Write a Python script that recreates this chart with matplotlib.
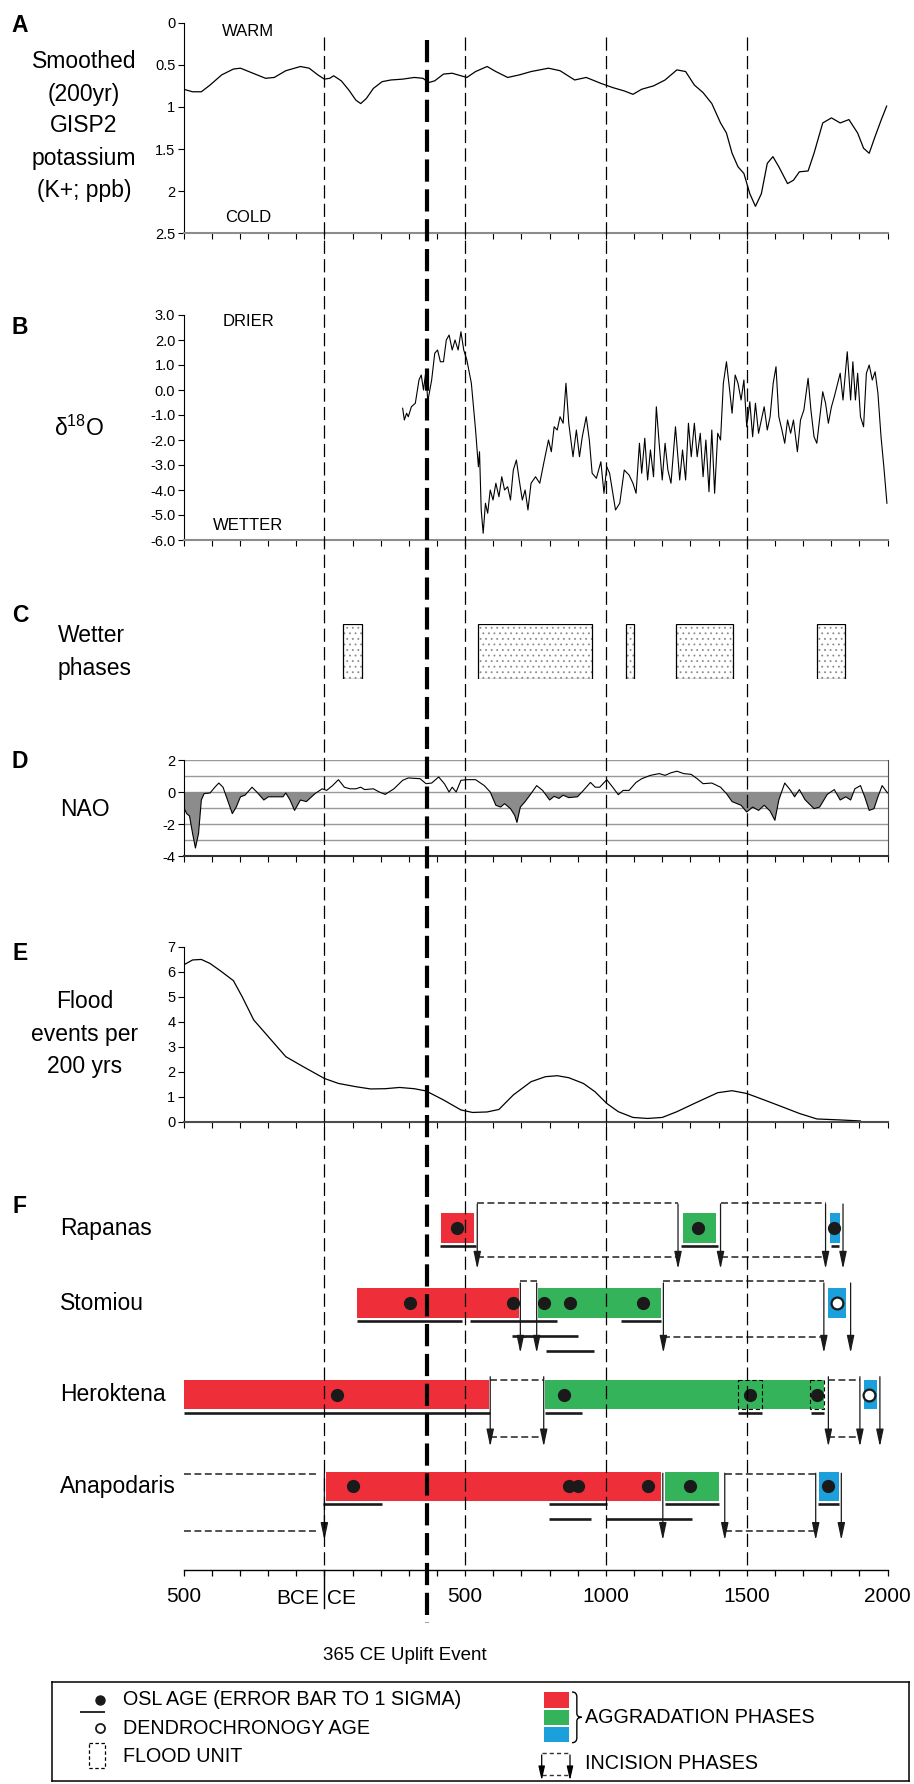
import matplotlib
matplotlib.use("Agg")
import matplotlib.pyplot as plt
from matplotlib.patches import Rectangle, PathPatch
from matplotlib.path import Path
import numpy as np

plt.rcParams["font.family"] = ["Liberation Sans", "DejaVu Sans"]
plt.rcParams["lines.scale_dashes"] = False
plt.rcParams["axes.unicode_minus"] = False
plt.rcParams["mathtext.fontset"] = "custom"
plt.rcParams["mathtext.rm"] = "Liberation Sans"
plt.rcParams["hatch.linewidth"] = 0.6

# ---------------- data ----------------
X0, X1 = -500, 2000

# A: smoothed GISP2 potassium (ppb)
K_YEAR = [-500, -468, -437, -406, -365, -323, -298, -261, -209, -178, -137, -85, -54, -23,
          0, 19, 33, 60, 87, 112, 129, 149, 174, 205, 236, 278, 319, 350, 371, 392, 423,
          454, 485, 506, 537, 578, 609, 651, 692, 734, 796, 837, 889, 930, 982, 1024, 1065,
          1096, 1127, 1169, 1210, 1252, 1283, 1314, 1345, 1376, 1407, 1428, 1448, 1469,
          1490, 1511, 1531, 1552, 1573, 1593, 1614, 1645, 1666, 1687, 1718, 1739, 1770,
          1801, 1832, 1863, 1894, 1915, 1935, 1956, 1977, 1997]
K_PPB = [0.79, 0.82, 0.82, 0.74, 0.62, 0.55, 0.54, 0.59, 0.66, 0.65, 0.57, 0.52, 0.54, 0.62,
         0.67, 0.66, 0.63, 0.69, 0.80, 0.92, 0.96, 0.90, 0.78, 0.70, 0.68, 0.67, 0.65, 0.66,
         0.71, 0.69, 0.61, 0.60, 0.63, 0.65, 0.58, 0.52, 0.58, 0.65, 0.62, 0.58, 0.54, 0.57,
         0.68, 0.65, 0.72, 0.77, 0.81, 0.85, 0.79, 0.75, 0.68, 0.56, 0.58, 0.74, 0.83, 0.96,
         1.19, 1.31, 1.55, 1.71, 1.79, 2.03, 2.18, 2.03, 1.67, 1.59, 1.71, 1.91, 1.87, 1.77,
         1.76, 1.55, 1.19, 1.13, 1.19, 1.15, 1.31, 1.49, 1.55, 1.35, 1.16, 0.99]

# B: delta 18O
D18_YEAR = [278, 284, 292, 298, 309, 323, 336, 344, 352, 361, 367, 381, 392, 402, 412, 423,
            433, 443, 454, 464, 475, 485, 495, 506, 522, 537, 547, 551, 557, 564, 572, 580,
            589, 599, 609, 620, 630, 640, 651, 661, 671, 682, 692, 703, 713, 723, 734, 750,
            765, 779, 796, 806, 816, 827, 837, 848, 858, 868, 883, 895, 906, 916, 930, 941,
            951, 966, 982, 993, 1003, 1013, 1034, 1049, 1065, 1082, 1096, 1107, 1119, 1127,
            1138, 1148, 1158, 1169, 1179, 1189, 1200, 1210, 1220, 1231, 1247, 1262, 1272,
            1283, 1293, 1303, 1314, 1324, 1335, 1345, 1355, 1366, 1376, 1386, 1397, 1407,
            1417, 1428, 1438, 1448, 1459, 1469, 1480, 1490, 1500, 1511, 1521, 1531, 1542,
            1552, 1562, 1573, 1583, 1594, 1604, 1614, 1625, 1635, 1645, 1656, 1666, 1680,
            1691, 1703, 1718, 1728, 1739, 1749, 1770, 1780, 1790, 1801, 1811, 1832, 1842,
            1857, 1869, 1877, 1886, 1894, 1904, 1915, 1925, 1935, 1946, 1956, 1966, 1977,
            1987, 1998]
D18_VAL = [-0.73, -1.2, -0.93, -1.07, -0.67, -0.53, 0.4, 0.6, 0.0, 0.8, -0.47, 0.4, 1.47, 1.6,
           1.13, 1.13, 2.0, 2.2, 1.6, 2.0, 1.6, 2.33, 1.6, 1.2, 0.27, -1.6, -3.07, -2.47,
           -4.8, -5.73, -4.53, -4.93, -4.0, -4.4, -3.73, -4.27, -3.47, -4.0, -3.87, -4.4,
           -3.2, -2.8, -3.6, -4.4, -4.0, -4.8, -3.73, -3.47, -3.73, -2.93, -2.0, -2.47,
           -1.47, -1.6, -1.07, -1.33, 0.27, -1.33, -2.67, -1.6, -2.67, -1.87, -1.07, -2.0,
           -3.33, -3.53, -2.87, -4.13, -3.07, -3.33, -4.8, -4.53, -3.2, -3.4, -3.73, -4.13,
           -2.13, -3.33, -1.93, -3.6, -2.4, -3.47, -0.67, -2.13, -3.6, -2.13, -3.2, -3.73,
           -1.47, -3.6, -2.4, -3.6, -1.33, -2.67, -1.33, -2.67, -1.73, -3.47, -2.0, -4.07,
           -1.6, -4.13, -1.73, -2.0, 0.27, 1.13, 0.13, -0.93, 0.6, 0.27, -0.4, 0.4, -1.47,
           -0.47, -1.87, -0.53, -1.73, -1.2, -0.67, -1.6, -1.07, 0.27, 0.93, -1.07, -1.6,
           -2.13, -1.2, -1.73, -1.2, -2.47, -1.2, -0.8, 0.47, -0.8, -1.87, -2.13, -0.07,
           -0.53, -1.33, -0.67, -0.27, 0.67, -0.4, 1.53, -0.4, 1.13, -0.4, 0.67, -1.07,
           -1.47, 0.67, 1.0, 0.4, 0.73, -0.13, -1.87, -3.07, -4.53]

# C: wetter phases (start, end)
WET_START = [65, 545, 1070, 1250, 1750]
WET_END = [135, 950, 1100, 1450, 1850]

# D: NAO index
NAO_YEAR = [-500, -489, -479, -468, -458, -447, -437, -427, -406, -389, -375, -360, -344,
            -327, -313, -298, -282, -257, -240, -215, -199, -178, -147, -137, -122, -106,
            -85, -64, -33, -8, 8, 29, 50, 71, 91, 112, 129, 143, 174, 195, 216, 247, 278,
            298, 340, 361, 381, 406, 427, 443, 454, 468, 485, 506, 537, 568, 589, 609, 626,
            640, 661, 676, 684, 696, 713, 734, 754, 775, 800, 816, 833, 848, 868, 899, 920,
            945, 962, 978, 1003, 1024, 1044, 1061, 1082, 1107, 1127, 1158, 1189, 1210, 1231,
            1252, 1276, 1303, 1324, 1345, 1376, 1407, 1428, 1448, 1480, 1500, 1521, 1542,
            1562, 1583, 1600, 1614, 1635, 1656, 1670, 1687, 1707, 1739, 1759, 1786, 1811,
            1832, 1852, 1869, 1884, 1904, 1919, 1935, 1952, 1966, 1981, 2000]
NAO_VAL = [-0.94, -1.35, -1.5, -2.6, -3.5, -2.6, -0.5, -0.1, -0.06, 0.3,
           0.56, 0.3, -0.5, -1.35, -0.94, -0.3, -0.2, 0.3, 0.0, -0.5,
           -0.3, -0.3, -0.3, -0.06, -0.5, -1.15, -0.5, -0.6, -0.1, 0.2,
           0.1, 0.4, 0.77, 0.3, 0.2, 0.2, 0.3, 0.15, 0.2, 0.0,
           -0.15, 0.2, 0.73, 0.88, 0.83, 0.52, 0.56, 0.94, 0.5, 0.0,
           0.3, 0.0, 0.73, 0.77, 0.77, 0.4, 0.0, -0.83, -0.94, -0.73,
           -1.04, -1.46, -1.9, -0.94, -0.6, -0.1, 0.4, 0.1, -0.5, -0.27,
           -0.4, -0.2, -0.35, -0.3, 0.1, 0.6, 0.3, 0.3, 0.77, 0.3,
           -0.17, 0.1, 0.1, 0.6, 0.83, 1.04, 1.15, 1.04, 1.2, 1.3,
           1.15, 1.1, 0.83, 0.52, 0.56, 0.3, -0.1, -0.6, -0.83, -1.25,
           -0.94, -1.15, -0.83, -1.19, -1.77, -0.5, 0.56, 0.1, -0.3, 0.15,
           -0.48, -1.04, -0.94, -0.15, 0.15, -0.5, -0.3, -0.5, 0.2, 0.4,
           -0.3, -1.15, -1.04, -0.3, 0.4, -0.06]

# E: flood events per 200 yrs
FLOOD_YEAR = [-500, -468, -437, -406, -365, -323, -292, -251, -199, -137, -75, 0, 50, 112,
              164, 216, 267, 319, 361, 423, 485, 526, 578, 620, 671, 734, 785, 827, 868,
              920, 961, 1003, 1044, 1096, 1148, 1200, 1252, 1314, 1397, 1448, 1500, 1562,
              1625, 1687, 1749, 1832, 1904]
FLOOD_N = [6.27, 6.47, 6.49, 6.33, 6.0, 5.64, 5.0, 4.07, 3.4, 2.6, 2.2, 1.73, 1.53, 1.4,
           1.31, 1.32, 1.37, 1.32, 1.23, 0.87, 0.47, 0.37, 0.39, 0.49, 1.07, 1.6, 1.8,
           1.84, 1.76, 1.53, 1.2, 0.73, 0.4, 0.17, 0.13, 0.17, 0.4, 0.73, 1.16, 1.24,
           1.13, 0.87, 0.6, 0.33, 0.11, 0.07, 0.03]

# F: aggradation / incision phases per catchment
SITES = ["Rapanas", "Stomiou", "Heroktena", "Anapodaris"]
AGG_RED = [(415, 530), (116, 692), (-500, 584), (4, 1194)]
AGG_GREEN = [(1272, 1390), (758, 1196), (785, 1774), (1210, 1403)]
AGG_BLUE = [(1795, 1830), (1790, 1853), (1915, 1962), (1755, 1828)]
OSL_AGES = [[472, 1328, 1811], [305, 671, 779, 872, 1131],
            [44, 850, 1513, 1749], [102, 868, 899, 1148, 1297, 1790]]
DENDRO_AGES = [[], [1821], [1935], []]
# 1 sigma error bars (from, to, stack level)
OSL_ERR = [
    [(410, 537, 0), (1268, 1397, 0), (1800, 1826, 0)],
    [(116, 489, 0), (518, 827, 0), (1055, 1196, 0), (667, 899, 1), (787, 957, 2)],
    [(-500, 589, 0), (785, 916, 0), (1469, 1556, 0), (1728, 1774, 0)],
    [(-6, 205, 0), (796, 1003, 0), (1210, 1403, 0), (1753, 1828, 0), (796, 947, 1), (999, 1305, 1)],
]
FLOOD_UNITS = [[], [], [(1469, 1556), (1724, 1774)], []]
INCISION_SPANS = [[(543, 1256), (1407, 1780)], [(696, 754), (1204, 1774)],
                  [(589, 779), (1790, 1902)], [(-500, -20), (1422, 1745)]]
INCISION_ARROWS = [[543, 1256, 1407, 1780, 1842], [696, 754, 1204, 1774, 1869],
                   [589, 779, 1790, 1902, 1973], [0, 1202, 1422, 1745, 1836]]

THIN_LINES = [0, 500, 1000, 1500]
UPLIFT_YEAR = 365

RED, GREEN, BLUE = "#ee2e38", "#35b35a", "#1ba0dc"

# ---------------- layout (pixels of the 914x1784 canvas) ----------------
W, H = 914, 1784
PX_L, PX_R = 183.6, 887.5
TXT = 16.5      # side labels
TICK = 10.5     # panel tick labels

fig = plt.figure(figsize=(W / 100, H / 100), dpi=100)


def fx(px):
    return px / W


def fy(py):
    return 1 - py / H


def add_panel(top, bot):
    return fig.add_axes([fx(PX_L), fy(bot), fx(PX_R) - fx(PX_L), (bot - top) / H])


def time_axis(ax, spine_color):
    ax.set_xlim(X0, X1)
    ax.set_xticks(np.arange(X0, X1 + 1, 100))
    ax.tick_params(axis="x", direction="out", length=4.5, width=0.8, labelbottom=False)
    ax.tick_params(axis="y", direction="out", length=4.5, width=0.8, labelsize=TICK, pad=1.5)
    for s in ("top", "right"):
        ax.spines[s].set_visible(False)
    ax.spines["bottom"].set_color(spine_color)
    ax.spines["bottom"].set_linewidth(1.5)
    ax.spines["left"].set_linewidth(0.8)
    ax.patch.set_visible(False)


def label(px, py, s, size=TXT, **kw):
    kw.setdefault("ha", "center")
    kw.setdefault("va", "center")
    fig.text(fx(px), fy(py), s, fontsize=size, **kw)


# ---- A ----
axA = add_panel(22.7, 233.3)
axA.plot(K_YEAR, K_PPB, color="k", lw=0.9)
axA.set_ylim(2.5, 0)
axA.set_yticks([0, 0.5, 1, 1.5, 2, 2.5])
axA.set_yticklabels(["0", "0.5", "1", "1.5", "2", "2.5"])
time_axis(axA, "0.55")

# ---- B ----
axB = add_panel(315, 540)
axB.plot(D18_YEAR, D18_VAL, color="k", lw=0.8)
axB.set_ylim(-6, 3)
axB.set_yticks(np.arange(-6, 3.1, 1))
axB.set_yticklabels([f"{v:.1f}" for v in np.arange(-6, 3.1, 1)])
time_axis(axB, "0.55")

# ---- C ----
axC = add_panel(624.3, 678.7)
axC.set_xlim(X0, X1)
axC.set_ylim(0, 1)
axC.axis("off")
widths = [e - s for s, e in zip(WET_START, WET_END)]
axC.barh(0.5, widths, left=WET_START, height=1, color="white", edgecolor="0.55",
         hatch="...", lw=0)
axC.barh(0.5, widths, left=WET_START, height=1, fill=False, edgecolor="k", lw=0.9)

# ---- D ----
axD = add_panel(760, 856)
nao_y = np.array(NAO_VAL)
axD.fill_between(NAO_YEAR, nao_y, 0, where=nao_y < 0, interpolate=True,
                 color="#8c8c8c", lw=0)
axD.plot(NAO_YEAR, NAO_VAL, color="k", lw=0.8)
for g in range(-3, 3):
    axD.axhline(g, color="0.6", lw=1.0, zorder=0)
axD.set_ylim(-4, 2)
axD.set_yticks([-4, -2, 0, 2])
axD.set_yticklabels(["-4", "-2", "0", "2"])
time_axis(axD, "0.2")
axD.spines["right"].set_visible(True)
axD.spines["right"].set_color("0.3")
axD.spines["right"].set_linewidth(0.8)

# ---- E ----
axE = add_panel(946.7, 1121.7)
axE.plot(FLOOD_YEAR, FLOOD_N, color="k", lw=0.9)
axE.set_ylim(0, 7)
axE.set_yticks(range(0, 8))
time_axis(axE, "0.3")

# ---- F ----
F_TOP, F_AXIS = 1190, 1570
ROW_Y = [1228, 1303, 1394.7, 1486.2]
BAR_H = 29.4
DASH_TOP = [-25, -22, -15, -12]
DASH_BOT = [29, 34, 42, 44.5]
ARROW_TOP = [-24, -20, -18, -13]
ARROW_BOT = [41, 50, 52, 54]

axF = add_panel(F_TOP, F_AXIS)
axF.set_xlim(X0, X1)
axF.set_ylim(F_AXIS, F_TOP)
axF.patch.set_visible(False)
for s in ("top", "right", "left"):
    axF.spines[s].set_visible(False)
axF.spines["bottom"].set_linewidth(1.0)
axF.set_yticks([])
axF.set_xticks(np.arange(X0, X1 + 1, 500))
axF.set_xticks(np.arange(X0, X1 + 1, 100), minor=True)
axF.set_xticklabels(["500", "", "500", "1000", "1500", "2000"], fontsize=15)
axF.tick_params(axis="x", which="both", direction="out", length=4.5, width=0.9, pad=8)

for i, c in enumerate(ROW_Y):
    for (s, e), col in zip([AGG_RED[i], AGG_GREEN[i], AGG_BLUE[i]], [RED, GREEN, BLUE]):
        axF.barh(c, e - s, left=s, height=BAR_H, color=col, lw=0, zorder=2)
    for s, e in FLOOD_UNITS[i]:
        axF.add_patch(Rectangle((s, c - BAR_H / 2), e - s, BAR_H, fill=False, ec="k",
                                lw=0.8, ls=(0, (3, 2)), zorder=3))
    axF.plot(OSL_AGES[i], [c] * len(OSL_AGES[i]), "o", color="#1a1a1a", ms=8.5, zorder=4)
    if DENDRO_AGES[i]:
        axF.plot(DENDRO_AGES[i], [c] * len(DENDRO_AGES[i]), "o", mfc="white", mec="#1a1a1a",
                 mew=1.6, ms=8.5, zorder=4)
    for s, e, lev in OSL_ERR[i]:
        axF.hlines(c + BAR_H / 2 + 3.5 + 15 * lev, s, e, color="#1a1a1a", lw=1.9, zorder=3)
    for s, e in INCISION_SPANS[i]:
        axF.hlines([c + DASH_TOP[i], c + DASH_BOT[i]], s, e, color="#222222", lw=1.1,
                   linestyles=[(0, (5, 2.5))], zorder=3)
    for x in INCISION_ARROWS[i]:
        axF.annotate("", xy=(x, c + ARROW_BOT[i]), xytext=(x, c + ARROW_TOP[i]),
                     arrowprops=dict(arrowstyle="-|>,head_length=0.75,head_width=0.16",
                                     color="#1a1a1a", lw=0.9, shrinkA=0, shrinkB=0,
                                     mutation_scale=14), zorder=5)
    label(60, c, SITES[i], ha="left")

# ---- overlay: shared vertical time markers ----
ov = fig.add_axes([0, 0, 1, 1])
span = (X1 - X0) / (PX_R - PX_L)
ov.set_xlim(X0 - PX_L * span, X1 + (W - PX_R) * span)
ov.set_ylim(H, 0)
ov.axis("off")
for yr in THIN_LINES:
    ov.plot([yr, yr], [37, F_AXIS], color="k", lw=0.9, dashes=(9.5, 3.8))
ov.plot([0, 0], [F_AXIS, 1608], color="k", lw=1.0)
ov.plot([UPLIFT_YEAR] * 2, [40, 1623], color="k", lw=3.0, dashes=(16, 5.5))

# ---- text ----
for letter, py in zip("ABCDEF", [25, 327, 615, 762, 953, 1206.5]):
    label(20, py, letter, fontweight="bold")
label(84, 126, "Smoothed\n(200yr)\nGISP2\npotassium\n(K+; ppb)", linespacing=1.5)
label(248, 32, "WARM", size=12)
label(248, 218, "COLD", size=12)
label(248, 321, "DRIER", size=12)
label(248, 525, "WETTER", size=12)
label(79, 428, r"δ$^{18}$O")
label(58, 652, "Wetter\nphases", ha="left", linespacing=1.5)
label(85, 809, "NAO")
label(85, 1034, "Flood\nevents per\n200 yrs", linespacing=1.5)
label(319, 1599, "BCE", size=15, ha="right")
label(327, 1599, "CE", size=15, ha="left")
label(405, 1655, "365 CE Uplift Event", size=13.5)

# ---- legend ----
LG_L, LG_R, LG_T, LG_B = 52, 909, 1682, 1781
lg = fig.add_axes([fx(LG_L), fy(LG_B), fx(LG_R) - fx(LG_L), (LG_B - LG_T) / H])
lg.set_xlim(LG_L, LG_R)
lg.set_ylim(LG_B, LG_T)
lg.set_xticks([])
lg.set_yticks([])
for s in lg.spines.values():
    s.set_linewidth(1.1)
lg.plot([100], [1700], "o", color="#1a1a1a", ms=6.5)
lg.hlines(1712, 80, 105, color="#1a1a1a", lw=1.3)
lg.plot([100], [1728.3], "o", mfc="white", mec="#1a1a1a", mew=1.3, ms=6.5)
lg.add_patch(Rectangle((89.3, 1743), 15.7, 25, fill=False, ec="k", lw=0.9,
                       ls=(0, (2.5, 1.8))))
for py, col in zip([1692.3, 1709.7, 1727], [RED, GREEN, BLUE]):
    lg.add_patch(Rectangle((544.3, py), 24.7, 15.3, color=col, lw=0))
# curly brace grouping the three colours
bx, bt, bb, bm, bw = 572, 1692, 1742.7, 1717.3, 9.7
brace = Path([(bx, bt), (bx + bw / 2, bt), (bx + bw / 2, bt + 5), (bx + bw / 2, bm - 4),
              (bx + bw / 2, bm), (bx + bw, bm), (bx + bw / 2, bm), (bx + bw / 2, bm + 4),
              (bx + bw / 2, bb - 5), (bx + bw / 2, bb), (bx, bb)],
             [Path.MOVETO, Path.CURVE3, Path.CURVE3, Path.LINETO, Path.CURVE3, Path.CURVE3,
              Path.CURVE3, Path.CURVE3, Path.LINETO, Path.CURVE3, Path.CURVE3])
lg.add_patch(PathPatch(brace, fill=False, ec="k", lw=1.0))
lg.hlines([1752.7, 1775], 541.7, 570, color="#333333", lw=1.0, linestyles=[(0, (3, 2.2))])
for x in (541.7, 570):
    lg.annotate("", xy=(x, 1780.5), xytext=(x, 1755),
                arrowprops=dict(arrowstyle="-|>,head_length=0.7,head_width=0.16", color="k",
                                lw=0.9, shrinkA=0, shrinkB=0, mutation_scale=12))
for px, py, s in [(122.7, 1700, "OSL AGE (ERROR BAR TO 1 SIGMA)"),
                  (122.7, 1728.3, "DENDROCHRONOGY AGE"),
                  (122.7, 1756.5, "FLOOD UNIT"),
                  (585, 1717.3, "AGGRADATION PHASES"),
                  (585, 1763.3, "INCISION PHASES")]:
    lg.text(px, py, s, fontsize=14.2, va="center", ha="left")

fig.savefig("out.png", dpi=100, facecolor="white")
